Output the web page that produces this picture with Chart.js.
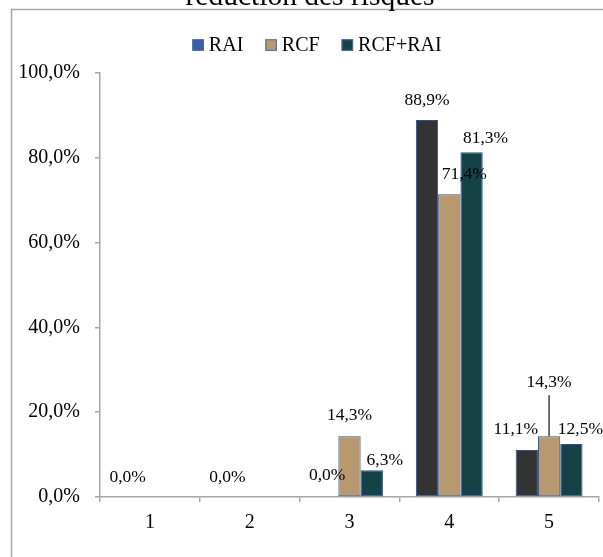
<!DOCTYPE html>
<html><head><meta charset="utf-8">
<script src="https://cdn.jsdelivr.net/npm/chart.js@4.4.0/dist/chart.umd.min.js"></script>
<style>html,body{margin:0;padding:0;background:#fff;overflow:hidden}canvas{display:block}</style>
</head><body>
<canvas id="c" width="603" height="557"></canvas>
<script>
// ---- data ----
const titleText = 'réduction des risques';
const categories = ['1', '2', '3', '4', '5'];
const seriesNames = ['RAI', 'RCF', 'RCF+RAI'];
const raiValues = [0, 0, 0, 88.9, 11.1];
const rcfValues = [null, null, 14.3, 71.4, 14.3];
const rcfRaiValues = [null, null, 6.3, 81.3, 12.5];
const yTickValues = [0, 20, 40, 60, 80, 100];

// ---- styles ----
const FONT = "'Liberation Serif', 'Times New Roman', serif";
const barColors = ['#333333', '#B8996F', '#144247'];
const legendColors = ['#3A5DA8', '#B8996F', '#144247'];
const barBorder = '#2E4F8C';
const axisColor = '#A6A6A6';
const fmt = v => v.toFixed(1).replace('.', ',') + '%';

// label nudges: [dx, distance of label centre above bar top, leader line]
const labelNudges = [
  [[0, 20], [0, 20], [0, 22], [0, 20], [-11, 21]],
  [null, null, [0, 21], [15, 20], [0, 54, true]],
  [null, null, [13, 10], [14, 14], [9, 15]]
];

const frameTitleLegend = {
  id: 'frameTitleLegend',
  afterDraw(chart) {
    const ctx = chart.ctx;
    ctx.save();
    // outer frame (clipped)
    ctx.strokeStyle = axisColor;
    ctx.lineWidth = 1.5;
    ctx.beginPath();
    ctx.moveTo(603, 9.5); ctx.lineTo(11.5, 9.5); ctx.lineTo(11.5, 557);
    ctx.stroke();
    // title (clipped at top)
    ctx.fillStyle = '#000';
    ctx.font = '29.5px ' + FONT;
    ctx.textAlign = 'center';
    ctx.textBaseline = 'alphabetic';
    ctx.fillText(titleText, 310, 5);
    // legend
    ctx.font = '20px ' + FONT;
    ctx.textAlign = 'left';
    const box = 11.5, gap = 5, itemGap = 22;
    const widths = seriesNames.map(n => box + gap + ctx.measureText(n).width);
    const total = widths.reduce((a, b) => a + b, 0) + itemGap * (seriesNames.length - 1);
    let x = 317 - total / 2;
    const baseY = 50.5;
    seriesNames.forEach((n, i) => {
      ctx.fillStyle = legendColors[i];
      ctx.fillRect(x, 39.3, box, box);
      ctx.strokeStyle = '#4A6AA5';
      ctx.lineWidth = 1;
      ctx.strokeRect(x + 0.5, 39.8, box - 1, box - 1);
      ctx.fillStyle = '#000';
      ctx.fillText(n, x + box + gap, baseY);
      x += widths[i] + itemGap;
    });
    ctx.restore();
  }
};

const dataLabels = {
  id: 'dataLabels',
  afterDatasetsDraw(chart) {
    const ctx = chart.ctx;
    ctx.save();
    ctx.font = '17.5px ' + FONT;
    ctx.fillStyle = '#000';
    ctx.textAlign = 'center';
    ctx.textBaseline = 'middle';
    chart.data.datasets.forEach((ds, di) => {
      const meta = chart.getDatasetMeta(di);
      ds.data.forEach((v, i) => {
        if (v === null || v === undefined) return;
        const bar = meta.data[i];
        const n = (labelNudges[di] && labelNudges[di][i]) || [0, 20];
        const lx = bar.x + n[0];
        const ly = bar.y - n[1];
        if (n[2]) {
          ctx.strokeStyle = '#404040';
          ctx.lineWidth = 1.5;
          ctx.beginPath();
          ctx.moveTo(bar.x, ly + 13);
          ctx.lineTo(bar.x, bar.y);
          ctx.stroke();
        }
        ctx.fillText(fmt(v), lx, ly);
      });
    });
    ctx.restore();
  }
};

const allSeries = [raiValues, rcfValues, rcfRaiValues];

new Chart(document.getElementById('c'), {
  type: 'bar',
  data: {
    labels: categories,
    datasets: seriesNames.map((name, i) => ({
      label: name,
      data: allSeries[i],
      backgroundColor: barColors[i],
      borderColor: barBorder,
      borderWidth: 1,
      borderSkipped: false,
      categoryPercentage: 0.67,
      barPercentage: 1.0
    }))
  },
  options: {
    responsive: false,
    animation: false,
    devicePixelRatio: 1,
    layout: { padding: { left: 0, right: 4, top: 73, bottom: 0 } },
    plugins: { legend: { display: false }, title: { display: false }, tooltip: { enabled: false } },
    scales: {
      x: {
        grid: { display: true, drawOnChartArea: false, drawTicks: true, tickLength: 5, color: axisColor, lineWidth: 1.5, offset: true },
        border: { display: true, color: axisColor, width: 1.5 },
        ticks: { color: '#000', font: { family: FONT, size: 20 }, padding: 9, maxRotation: 0 },
        afterFit: s => { s.height = 60; }
      },
      y: {
        min: 0, max: 100,
        afterBuildTicks: s => { s.ticks = yTickValues.map(v => ({ value: v })); },
        grid: { display: true, drawOnChartArea: false, drawTicks: true, tickLength: 5, color: axisColor, lineWidth: 1.5 },
        border: { display: true, color: axisColor, width: 1.5 },
        ticks: { color: '#000', font: { family: FONT, size: 20 }, padding: 15, callback: v => fmt(v) },
        afterFit: s => { s.width = 100; }
      }
    }
  },
  plugins: [frameTitleLegend, dataLabels]
});
</script>
</body></html>
